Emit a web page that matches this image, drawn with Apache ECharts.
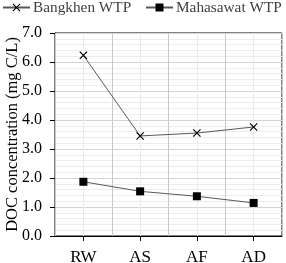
<!DOCTYPE html>
<html><head><meta charset="utf-8">
<script src="https://cdn.jsdelivr.net/npm/echarts@6/dist/echarts.min.js"></script>
<style>html,body{margin:0;padding:0;background:#fff}#c{width:286px;height:263px}</style>
</head><body><div id="c"></div>
<script>
var categories = ['RW', 'AS', 'AF', 'AD'];
var bangkhen = [6.23, 3.45, 3.55, 3.76];
var mahasawat = [1.87, 1.54, 1.37, 1.14];
var halfSlots = ['a','b','c','d','e','f','g','h'];
var seriesNames = ['Bangkhen WTP', 'Mahasawat WTP'];

var FONT = '"Liberation Serif", "Times New Roman", serif';
var xPath = 'path://M0,1 L1,0 L5,4 L9,0 L10,1 L6,5 L10,9 L9,10 L5,6 L1,10 L0,9 L4,5 Z';

function legendAt(name, left) {
  return {
    top: 0, left: left, padding: 0, itemGap: 0, itemWidth: 27, itemHeight: 10,
    textStyle: {fontFamily: FONT, fontSize: 15.3, color: '#404040', padding: [0,0,0,-2]},
    data: [name]
  };
}

var chart = echarts.init(document.getElementById('c'), null, {renderer: 'canvas'});
chart.setOption({
  animation: false,
  backgroundColor: '#fff',
  legend: [legendAt(seriesNames[0], 2), legendAt(seriesNames[1], 145)],
  grid: {left: 55, right: 4, top: 33, bottom: 27, show: true, borderColor: '#000', borderWidth: 1,
         containLabel: false, outerBoundsMode: 'none'},
  xAxis: [{
    type: 'category', data: categories, boundaryGap: true,
    axisLine: {lineStyle: {color: '#000', width: 1}},
    axisTick: {show: true, alignWithLabel: true, length: 5, lineStyle: {color: '#000'}},
    axisLabel: {fontFamily: FONT, fontSize: 17, color: '#000', margin: 13},
    splitLine: {show: true, lineStyle: {color: '#c8c8c8', width: 1}},
    z: 3
  }, {
    type: 'category', data: halfSlots, boundaryGap: true, position: 'bottom',
    axisLine: {show: false}, axisTick: {show: false}, axisLabel: {show: false},
    splitLine: {show: true, lineStyle: {color: '#ebebeb', width: 1}},
    z: 1
  }],
  yAxis: {
    type: 'value', min: 0, max: 7, interval: 1,
    name: 'DOC concentration (mg C/L)', nameLocation: 'middle', nameGap: 34,
    nameMoveOverlap: false,
    nameTextStyle: {fontFamily: FONT, fontSize: 16.5, color: '#000'},
    axisLine: {show: true, lineStyle: {color: '#000', width: 1}},
    axisTick: {show: true, length: 5, lineStyle: {color: '#000'}},
    axisLabel: {fontFamily: FONT, fontSize: 16, color: '#000', margin: 13,
      formatter: function (v) { return v.toFixed(1); }},
    splitLine: {show: true, lineStyle: {color: '#d4d4d4', width: 1}},
    minorTick: {show: false, splitNumber: 5},
    minorSplitLine: {show: true, lineStyle: {color: '#ececec', width: 1}}
  },
  series: [{
    name: seriesNames[0], type: 'line', data: bangkhen, xAxisIndex: 0,
    symbol: xPath, symbolSize: 8,
    lineStyle: {color: '#595959', width: 1},
    itemStyle: {color: '#000'}, z: 5
  }, {
    name: seriesNames[1], type: 'line', data: mahasawat, xAxisIndex: 0,
    symbol: 'rect', symbolSize: 8,
    lineStyle: {color: '#595959', width: 1},
    itemStyle: {color: '#000'}, z: 5
  }]
});
</script></body></html>
